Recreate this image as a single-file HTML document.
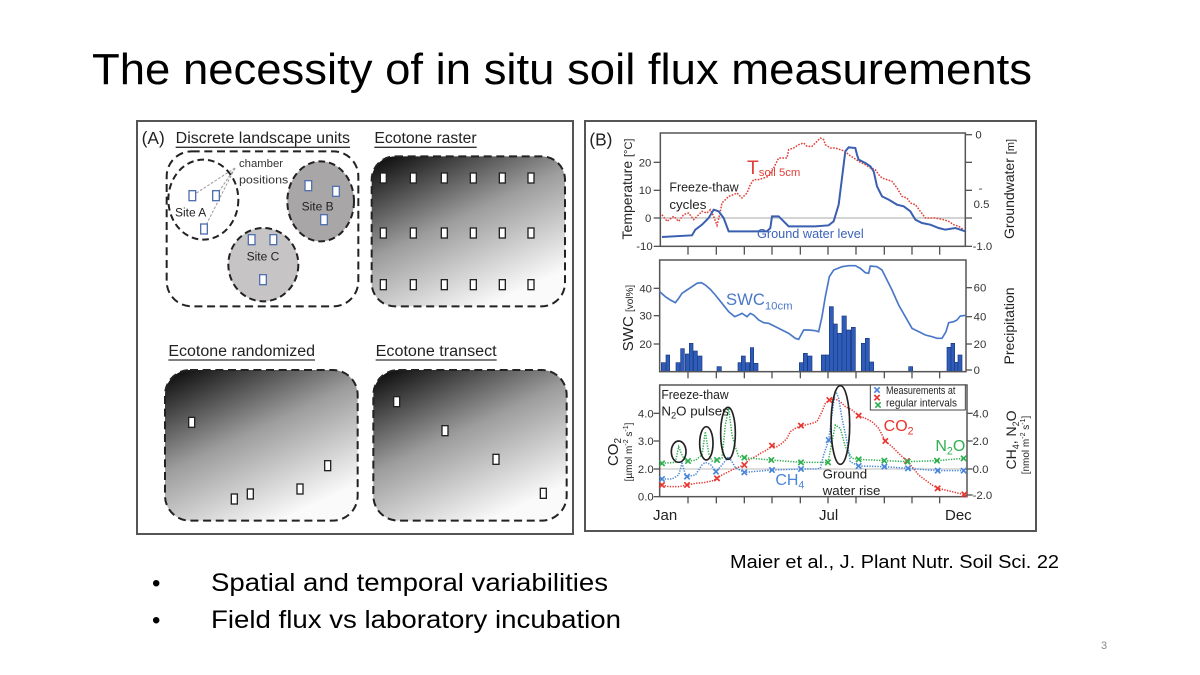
<!DOCTYPE html>
<html><head><meta charset="utf-8"><style>
html,body{margin:0;padding:0;background:#fff;}
svg{display:block;}
text{font-family:"Liberation Sans",sans-serif;}
</style></head><body>
<svg width="1200" height="675" viewBox="0 0 1200 675">
<defs>
<linearGradient id="g1" x1="0" y1="0" x2="0.6" y2="1">
<stop offset="0" stop-color="#050505"/>
<stop offset="0.5" stop-color="#9c9c9c"/>
<stop offset="1" stop-color="#fafafa"/>
</linearGradient>
<path id="xm" d="M-8,-8L8,8M-8,8L8,-8" fill="none"/>
</defs>
<rect width="1200" height="675" fill="#fff"/>

<!-- Title -->
<text x="92" y="84" font-size="44" textLength="940" lengthAdjust="spacingAndGlyphs" fill="#000">The necessity of in situ soil flux measurements</text>

<!-- Panel borders -->
<rect x="137" y="121" width="436" height="413" fill="none" stroke="#555" stroke-width="2"/>
<rect x="585" y="121" width="451" height="410" fill="none" stroke="#555" stroke-width="2"/>

<!-- Panel A top -->
<g transform="translate(135,118) scale(0.33333)">
<text x="20" y="78" font-size="52" fill="#222">(A)</text>
<text x="122" y="75" font-size="46" textLength="523" lengthAdjust="spacingAndGlyphs" fill="#222">Discrete landscape units</text>
<line x1="122" y1="88" x2="645" y2="88" stroke="#333" stroke-width="4"/>
<text x="718" y="75" font-size="46" textLength="307" lengthAdjust="spacingAndGlyphs" fill="#222">Ecotone raster</text>
<line x1="718" y1="88" x2="1025" y2="88" stroke="#333" stroke-width="4"/>
<rect x="95" y="100" width="575" height="465" rx="75" fill="none" stroke="#222" stroke-width="6" stroke-dasharray="24 14"/>
<ellipse cx="205" cy="245" rx="105" ry="120" fill="#fff" stroke="#222" stroke-width="6" stroke-dasharray="20 12"/>
<ellipse cx="557" cy="250" rx="100" ry="120" fill="#a8a6a6" stroke="#222" stroke-width="6" stroke-dasharray="20 12"/>
<ellipse cx="385" cy="440" rx="105" ry="110" fill="#c6c4c4" stroke="#222" stroke-width="6" stroke-dasharray="20 12"/>
<g stroke="#999" stroke-width="3" stroke-dasharray="8 5">
<line x1="300" y1="150" x2="172" y2="233"/>
<line x1="300" y1="150" x2="243" y2="233"/>
<line x1="300" y1="150" x2="207" y2="333"/>
</g>
<text x="312" y="147" font-size="34" fill="#333">chamber</text>
<text x="312" y="197" font-size="34" fill="#333" textLength="148" lengthAdjust="spacingAndGlyphs">positions</text>
<text x="120" y="295" font-size="36" fill="#222">Site A</text>
<text x="500" y="277" font-size="36" fill="#222">Site B</text>
<text x="335" y="428" font-size="36" fill="#222">Site C</text>
<g fill="#fff" stroke="#5070b0" stroke-width="4">
<rect x="162" y="218" width="20" height="30"/>
<rect x="233" y="218" width="20" height="30"/>
<rect x="197" y="318" width="20" height="30"/>
<rect x="510" y="188" width="20" height="30"/>
<rect x="593" y="205" width="20" height="30"/>
<rect x="557" y="290" width="20" height="30"/>
<rect x="340" y="350" width="20" height="30"/>
<rect x="405" y="350" width="20" height="30"/>
<rect x="374" y="470" width="20" height="30"/>
</g>
<rect x="710" y="115" width="580" height="450" rx="70" fill="url(#g1)" stroke="#222" stroke-width="6" stroke-dasharray="24 14"/>
<g fill="#fff" stroke="#222" stroke-width="4">
<rect x="736" y="165" width="18" height="30"/><rect x="826" y="165" width="18" height="30"/><rect x="919" y="165" width="18" height="30"/><rect x="1006" y="165" width="18" height="30"/><rect x="1093" y="165" width="18" height="30"/><rect x="1179" y="165" width="18" height="30"/>
<rect x="736" y="330" width="18" height="30"/><rect x="826" y="330" width="18" height="30"/><rect x="919" y="330" width="18" height="30"/><rect x="1006" y="330" width="18" height="30"/><rect x="1093" y="330" width="18" height="30"/><rect x="1179" y="330" width="18" height="30"/>
<rect x="736" y="485" width="18" height="30"/><rect x="826" y="485" width="18" height="30"/><rect x="919" y="485" width="18" height="30"/><rect x="1006" y="485" width="18" height="30"/><rect x="1093" y="485" width="18" height="30"/><rect x="1179" y="485" width="18" height="30"/>
</g>
</g>

<!-- Panel A bottom -->
<g transform="translate(135,330) scale(0.33333)">
<text x="100" y="78" font-size="46" textLength="440" lengthAdjust="spacingAndGlyphs" fill="#222">Ecotone randomized</text>
<line x1="100" y1="90" x2="540" y2="90" stroke="#333" stroke-width="4"/>
<text x="722" y="78" font-size="46" textLength="363" lengthAdjust="spacingAndGlyphs" fill="#222">Ecotone transect</text>
<line x1="722" y1="90" x2="1085" y2="90" stroke="#333" stroke-width="4"/>
<rect x="90" y="120" width="578" height="452" rx="75" fill="url(#g1)" stroke="#222" stroke-width="6" stroke-dasharray="24 14"/>
<rect x="715" y="120" width="580" height="452" rx="75" fill="url(#g1)" stroke="#222" stroke-width="6" stroke-dasharray="24 14"/>
<g fill="#fff" stroke="#222" stroke-width="4">
<rect x="161" y="262" width="18" height="30"/>
<rect x="289" y="492" width="18" height="30"/>
<rect x="337" y="477" width="18" height="30"/>
<rect x="486" y="462" width="18" height="30"/>
<rect x="569" y="392" width="18" height="30"/>
<rect x="776" y="200" width="18" height="30"/>
<rect x="921" y="287" width="18" height="30"/>
<rect x="1074" y="373" width="18" height="30"/>
<rect x="1216" y="475" width="18" height="30"/>
</g>
</g>

<!-- Panel B top plot -->
<g transform="translate(582,118) scale(0.33333)">
<text x="22" y="82" font-size="52" fill="#222">(B)</text>
<line x1="235" y1="300" x2="1150" y2="300" stroke="#aaa" stroke-width="3"/>
<rect x="235" y="45" width="915" height="340" fill="none" stroke="#555" stroke-width="4.5"/>
<g stroke="#555" stroke-width="4">
<line x1="215" y1="133" x2="235" y2="133"/><line x1="215" y1="217" x2="235" y2="217"/><line x1="215" y1="300" x2="235" y2="300"/><line x1="215" y1="385" x2="235" y2="385"/>
<line x1="1150" y1="50" x2="1170" y2="50"/><line x1="1150" y1="133" x2="1170" y2="133"/><line x1="1150" y1="217" x2="1170" y2="217"/><line x1="1150" y1="300" x2="1170" y2="300"/><line x1="1150" y1="385" x2="1170" y2="385"/>
<line x1="318" y1="385" x2="318" y2="410"/><line x1="403" y1="385" x2="403" y2="410"/><line x1="487" y1="385" x2="487" y2="410"/><line x1="570" y1="385" x2="570" y2="410"/><line x1="655" y1="385" x2="655" y2="410"/><line x1="738" y1="385" x2="738" y2="410"/><line x1="822" y1="385" x2="822" y2="410"/><line x1="907" y1="385" x2="907" y2="410"/><line x1="990" y1="385" x2="990" y2="410"/><line x1="1073" y1="385" x2="1073" y2="410"/>
</g>
<g font-size="34" fill="#333" text-anchor="end">
<text x="208" y="145">20</text><text x="208" y="228">10</text><text x="208" y="312">0</text><text x="212" y="396">-10</text>
</g>
<g font-size="34" fill="#333">
<text x="1180" y="62">0</text><text x="1190" y="222">-</text><text x="1175" y="270">0.5</text><text x="1172" y="396">-1.0</text>
</g>
<path d="M240,290 L255,310 L275,295 L290,310 L305,290 L320,285 L335,305 L345,295 L360,280 L375,285 L385,275 L395,295 L405,322 L413,290 L420,255 L430,245 L440,235 L455,230 L465,225 L480,240 L495,225 L505,200 L515,185 L530,185 L545,180 L560,175 L575,150 L590,120 L605,120 L615,120 L620,95 L635,90 L650,80 L665,75 L675,85 L690,85 L700,75 L715,60 L725,65 L730,80 L745,90 L760,90 L775,95 L790,100 L800,110 L815,120 L830,130 L850,140 L865,150 L880,155 L890,170 L900,180 L915,185 L930,190 L945,210 L960,235 L975,240 L985,255 L1000,260 L1015,280 L1030,300 L1045,300 L1060,300 L1085,305 L1100,310 L1115,320 L1130,325 L1145,335" fill="none" stroke="#e0403a" stroke-width="4.5" stroke-dasharray="5 4"/>
<path d="M240,357 L330,352 L340,335 L360,320 L380,300 L395,275 L410,280 L425,300 L440,340 L530,340 L555,340 L565,330 L570,295 L590,295 L600,305 L620,325 L700,325 L740,322 L755,310 L770,260 L780,180 L790,100 L800,88 L820,90 L825,110 L830,125 L850,135 L865,145 L875,160 L885,205 L900,235 L920,245 L945,260 L965,265 L985,280 L1000,305 L1020,315 L1045,320 L1070,330 L1090,335 L1120,330 L1150,340" fill="none" stroke="#3a5fb0" stroke-width="6"/>
<text x="262" y="220" font-size="40" fill="#222" textLength="208" lengthAdjust="spacingAndGlyphs">Freeze-thaw</text>
<text x="262" y="273" font-size="40" fill="#222">cycles</text>
<text x="495" y="168" font-size="58" fill="#e0403a">T<tspan font-size="34" dy="6">soil 5cm</tspan></text>
<text x="525" y="360" font-size="40" fill="#3a62b8" textLength="320" lengthAdjust="spacingAndGlyphs">Ground water level</text>
</g>

<!-- Panel B middle plot -->
<g transform="translate(582,250) scale(0.33333)">
<g fill="#2e5cb8" stroke="#1a3a80" stroke-width="2">
<rect x="238" y="338" width="12" height="27"/><rect x="252" y="315" width="11" height="50"/><rect x="282" y="338" width="12" height="27"/><rect x="296" y="296" width="11" height="69"/><rect x="310" y="312" width="12" height="53"/><rect x="322" y="280" width="11" height="85"/><rect x="334" y="303" width="12" height="62"/><rect x="346" y="318" width="14" height="47"/>
<rect x="405" y="350" width="13" height="15"/>
<rect x="468" y="338" width="10" height="27"/><rect x="478" y="318" width="12" height="47"/><rect x="490" y="338" width="13" height="27"/><rect x="505" y="293" width="10" height="72"/><rect x="515" y="340" width="13" height="25"/>
<rect x="652" y="338" width="12" height="27"/><rect x="664" y="310" width="12" height="55"/><rect x="677" y="318" width="13" height="47"/>
<rect x="718" y="315" width="12" height="50"/><rect x="730" y="315" width="12" height="50"/><rect x="742" y="170" width="12" height="195"/><rect x="754" y="222" width="12" height="143"/><rect x="766" y="250" width="14" height="115"/><rect x="780" y="198" width="13" height="167"/><rect x="793" y="240" width="13" height="125"/><rect x="808" y="232" width="12" height="133"/>
<rect x="838" y="280" width="12" height="85"/><rect x="850" y="265" width="12" height="100"/><rect x="862" y="336" width="13" height="29"/>
<rect x="980" y="350" width="12" height="15"/>
<rect x="1095" y="292" width="12" height="73"/><rect x="1107" y="280" width="11" height="85"/><rect x="1118" y="337" width="10" height="28"/><rect x="1128" y="315" width="12" height="50"/>
</g>
<rect x="233" y="30" width="919" height="335" fill="none" stroke="#555" stroke-width="4.5"/>
<g stroke="#555" stroke-width="4">
<line x1="215" y1="115" x2="233" y2="115"/><line x1="215" y1="197" x2="233" y2="197"/><line x1="215" y1="282" x2="233" y2="282"/>
<line x1="1152" y1="113" x2="1170" y2="113"/><line x1="1152" y1="200" x2="1170" y2="200"/><line x1="1152" y1="282" x2="1170" y2="282"/><line x1="1152" y1="360" x2="1170" y2="360"/>
<line x1="318" y1="365" x2="318" y2="385"/><line x1="403" y1="365" x2="403" y2="385"/><line x1="487" y1="365" x2="487" y2="385"/><line x1="570" y1="365" x2="570" y2="385"/><line x1="655" y1="365" x2="655" y2="385"/><line x1="738" y1="365" x2="738" y2="385"/><line x1="822" y1="365" x2="822" y2="385"/><line x1="907" y1="365" x2="907" y2="385"/><line x1="990" y1="365" x2="990" y2="385"/><line x1="1073" y1="365" x2="1073" y2="385"/>
</g>
<g font-size="34" fill="#333" text-anchor="end">
<text x="210" y="127">40</text><text x="210" y="209">30</text><text x="210" y="294">20</text>
</g>
<g font-size="34" fill="#333">
<text x="1175" y="125">60</text><text x="1175" y="212">40</text><text x="1175" y="294">20</text><text x="1175" y="372">0</text>
</g>
<path d="M233,125 L250,140 L265,150 L280,158 L290,145 L300,130 L315,120 L330,110 L345,100 L358,98 L370,105 L385,118 L400,135 L420,160 L440,185 L458,200 L470,195 L480,190 L495,200 L505,190 L515,195 L530,210 L545,218 L560,220 L580,230 L600,240 L620,250 L640,265 L650,268 L665,240 L680,240 L700,242 L710,245 L720,200 L730,140 L742,80 L755,60 L780,50 L800,47 L820,47 L835,55 L850,68 L860,70 L865,48 L885,50 L900,60 L910,80 L930,120 L950,165 L970,200 L990,235 L1010,245 L1030,255 L1050,260 L1065,265 L1080,265 L1092,245 L1100,218 L1115,215 L1125,210 L1135,198 L1152,196" fill="none" stroke="#4a78c8" stroke-width="5"/>
<text x="432" y="165" font-size="50" fill="#4a78c8">SWC<tspan font-size="34" dy="14">10cm</tspan></text>
</g>

<!-- Panel B bottom plot -->
<g transform="translate(582,375) scale(0.33333)">
<line x1="233" y1="282" x2="1155" y2="282" stroke="#bbb" stroke-width="3"/>
<rect x="233" y="30" width="922" height="335" fill="none" stroke="#555" stroke-width="4.5"/>
<g stroke="#555" stroke-width="4">
<line x1="215" y1="115" x2="233" y2="115"/><line x1="215" y1="198" x2="233" y2="198"/><line x1="215" y1="282" x2="233" y2="282"/><line x1="215" y1="365" x2="233" y2="365"/>
<line x1="1155" y1="115" x2="1172" y2="115"/><line x1="1155" y1="198" x2="1172" y2="198"/><line x1="1155" y1="282" x2="1172" y2="282"/><line x1="1155" y1="360" x2="1172" y2="360"/>
<line x1="318" y1="365" x2="318" y2="385"/><line x1="403" y1="365" x2="403" y2="385"/><line x1="487" y1="365" x2="487" y2="385"/><line x1="570" y1="365" x2="570" y2="385"/><line x1="655" y1="365" x2="655" y2="385"/><line x1="738" y1="365" x2="738" y2="385"/><line x1="822" y1="365" x2="822" y2="385"/><line x1="907" y1="365" x2="907" y2="385"/><line x1="990" y1="365" x2="990" y2="385"/><line x1="1073" y1="365" x2="1073" y2="385"/>
</g>
<g font-size="34" fill="#333" text-anchor="end">
<text x="215" y="127">4.0</text><text x="215" y="210">3.0</text><text x="215" y="294">2.0</text><text x="215" y="377">0.0</text>
</g>
<g font-size="34" fill="#333">
<text x="1172" y="127">4.0</text><text x="1172" y="210">2.0</text><text x="1172" y="294">0.0</text><text x="1172" y="372">-2.0</text>
</g>
<!-- CO2 -->
<path d="M240,330 L260,335 L290,335 L315,330 L340,325 L370,322 L390,318 L405,310 L420,300 L440,290 L460,280 L487,270 L500,255 L520,245 L540,232 L555,225 L570,212 L585,215 L600,205 L615,190 L625,170 L640,160 L657,152 L670,150 L690,145 L705,140 L720,110 L730,85 L742,75 L760,72 L775,80 L790,95 L810,105 L830,122 L850,130 L870,140 L890,160 L910,198 L930,215 L950,235 L975,258 L990,275 L1010,300 L1030,315 L1050,330 L1067,340 L1090,345 L1110,350 L1130,355 L1147,358" fill="none" stroke="#e8352f" stroke-width="4.5" stroke-dasharray="4 4"/>
<!-- N2O -->
<path d="M240,265 L280,262 L290,215 L300,240 L310,258 L318,258 L340,256 L360,240 L370,170 L380,235 L390,258 L405,255 L420,250 L430,150 L440,100 L450,180 L460,215 L470,245 L487,248 L568,255 L657,262 L738,262 L750,200 L760,150 L775,160 L790,215 L810,250 L830,253 L907,257 L977,260 L1065,257 L1145,250" fill="none" stroke="#30b050" stroke-width="4.5" stroke-dasharray="4 4"/>
<!-- CH4 -->
<path d="M240,312 L270,312 L290,300 L300,265 L310,298 L315,305 L340,300 L360,270 L370,262 L385,268 L402,290 L420,270 L440,245 L450,260 L460,278 L487,292 L570,285 L657,282 L700,282 L715,280 L725,240 L740,195 L750,120 L760,45 L770,70 L780,130 L795,200 L805,260 L830,273 L907,275 L978,280 L1067,287 L1145,287" fill="none" stroke="#4a86d8" stroke-width="4.5" stroke-dasharray="4 4"/>
<g stroke="#e8352f" stroke-width="5">
<use href="#xm" x="240" y="330"/><use href="#xm" x="315" y="330"/><use href="#xm" x="405" y="310"/><use href="#xm" x="487" y="270"/><use href="#xm" x="570" y="212"/><use href="#xm" x="657" y="152"/><use href="#xm" x="742" y="75"/><use href="#xm" x="830" y="122"/><use href="#xm" x="910" y="198"/><use href="#xm" x="975" y="258"/><use href="#xm" x="1067" y="340"/><use href="#xm" x="1147" y="358"/>
</g>
<g stroke="#30b050" stroke-width="5">
<use href="#xm" x="240" y="265"/><use href="#xm" x="318" y="258"/><use href="#xm" x="405" y="255"/><use href="#xm" x="487" y="248"/><use href="#xm" x="568" y="255"/><use href="#xm" x="657" y="262"/><use href="#xm" x="738" y="262"/><use href="#xm" x="830" y="253"/><use href="#xm" x="907" y="257"/><use href="#xm" x="977" y="260"/><use href="#xm" x="1065" y="257"/><use href="#xm" x="1145" y="250"/>
</g>
<g stroke="#4a86d8" stroke-width="5">
<use href="#xm" x="240" y="312"/><use href="#xm" x="315" y="305"/><use href="#xm" x="402" y="290"/><use href="#xm" x="487" y="292"/><use href="#xm" x="570" y="285"/><use href="#xm" x="657" y="282"/><use href="#xm" x="740" y="195"/><use href="#xm" x="830" y="273"/><use href="#xm" x="907" y="275"/><use href="#xm" x="978" y="280"/><use href="#xm" x="1067" y="287"/><use href="#xm" x="1145" y="287"/>
</g>
<g fill="none" stroke="#222" stroke-width="5">
<ellipse cx="290" cy="230" rx="22" ry="32"/>
<ellipse cx="373" cy="205" rx="20" ry="50"/>
<ellipse cx="438" cy="175" rx="22" ry="78"/>
<ellipse cx="775" cy="150" rx="28" ry="118"/>
</g>
<text x="238" y="72" font-size="40" fill="#222" textLength="202" lengthAdjust="spacingAndGlyphs">Freeze-thaw</text>
<text x="238" y="122" font-size="40" fill="#222">N<tspan font-size="28" dy="8">2</tspan><tspan dy="-8">O pulses</tspan></text>
<text x="722" y="310" font-size="40" fill="#222">Ground</text>
<text x="722" y="360" font-size="40" fill="#222">water rise</text>
<text x="905" y="168" font-size="48" fill="#e8352f">CO<tspan font-size="32" dy="10">2</tspan></text>
<text x="1060" y="228" font-size="48" fill="#30b050">N<tspan font-size="32" dy="10">2</tspan><tspan dy="-10">O</tspan></text>
<text x="580" y="330" font-size="48" fill="#4a86d8">CH<tspan font-size="32" dy="10">4</tspan></text>
<rect x="865" y="30" width="285" height="75" fill="#fff" stroke="#444" stroke-width="3"/>
<use href="#xm" x="885" y="45" stroke="#4a86d8" stroke-width="5"/>
<use href="#xm" x="885" y="68" stroke="#e8352f" stroke-width="5"/>
<use href="#xm" x="888" y="90" stroke="#30b050" stroke-width="5"/>
<text x="912" y="57" font-size="32" fill="#222" textLength="208" lengthAdjust="spacingAndGlyphs">Measurements at</text>
<text x="912" y="95" font-size="32" fill="#222" textLength="213" lengthAdjust="spacingAndGlyphs">regular intervals</text>
</g>

<!-- Month labels -->
<g font-size="15" fill="#222">
<text x="653" y="520">Jan</text>
<text x="819" y="520">Jul</text>
<text x="945" y="520">Dec</text>
</g>

<!-- Rotated axis labels -->
<text transform="translate(632,189) rotate(-90)" text-anchor="middle" font-size="14" fill="#222">Temperature <tspan font-size="11">[°C]</tspan></text>
<text transform="translate(633,318) rotate(-90)" text-anchor="middle" font-size="15" fill="#222">SWC <tspan font-size="10">[vol%]</tspan></text>
<text transform="translate(618,452) rotate(-90)" text-anchor="middle" font-size="15" fill="#222">CO<tspan font-size="10" dy="3">2</tspan></text>
<text transform="translate(632,452) rotate(-90)" text-anchor="middle" font-size="10" fill="#222">[µmol m<tspan font-size="7" dy="-4">-2</tspan><tspan dy="4"> s</tspan><tspan font-size="7" dy="-4">-1</tspan><tspan dy="4">]</tspan></text>
<text transform="translate(1014,189) rotate(-90)" text-anchor="middle" font-size="14" fill="#222">Groundwater <tspan font-size="11">[m]</tspan></text>
<text transform="translate(1014,326) rotate(-90)" text-anchor="middle" font-size="14" fill="#222">Precipitation</text>
<text transform="translate(1016,440) rotate(-90)" text-anchor="middle" font-size="14" fill="#222">CH<tspan font-size="9" dy="3">4</tspan><tspan dy="-3">, N</tspan><tspan font-size="9" dy="3">2</tspan><tspan dy="-3">O</tspan></text>
<text transform="translate(1029,445) rotate(-90)" text-anchor="middle" font-size="10" fill="#222">[nmol m<tspan font-size="7" dy="-4">-2</tspan><tspan dy="4"> s</tspan><tspan font-size="7" dy="-4">-1</tspan><tspan dy="4">]</tspan></text>

<!-- Citation -->
<text x="730" y="568" font-size="18" fill="#000" textLength="329" lengthAdjust="spacingAndGlyphs">Maier et al., J. Plant Nutr. Soil Sci. 22</text>

<!-- Bullets -->
<text x="152" y="591" font-size="24" fill="#000">•</text>
<text x="211" y="591" font-size="25" fill="#000" textLength="397" lengthAdjust="spacingAndGlyphs">Spatial and temporal variabilities</text>
<text x="152" y="628" font-size="24" fill="#000">•</text>
<text x="211" y="628" font-size="25" fill="#000" textLength="410" lengthAdjust="spacingAndGlyphs">Field flux vs laboratory incubation</text>

<text x="1101" y="649" font-size="11" fill="#888">3</text>
</svg>
</body></html>
